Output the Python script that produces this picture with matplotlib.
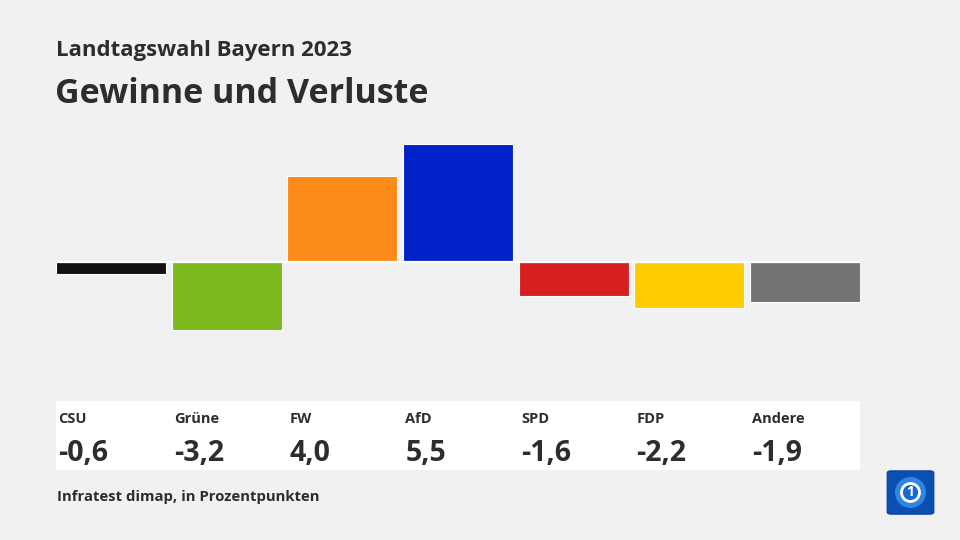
import matplotlib
matplotlib.use("Agg")
import matplotlib.pyplot as plt
from matplotlib.patches import Rectangle, FancyBboxPatch, Circle
from matplotlib.transforms import blended_transform_factory

parties = ["CSU", "Grüne", "FW", "AfD", "SPD", "FDP", "Andere"]
values = [-0.6, -3.2, 4.0, 5.5, -1.6, -2.2, -1.9]
value_labels = ["-0,6", "-3,2", "4,0", "5,5", "-1,6", "-2,2", "-1,9"]
colors = ["#111111", "#7aba1e", "#fd8b1a", "#0021c7", "#d71f1f", "#ffcc00", "#737374"]

W, H = 960, 540
BG = "#f1f1f1"
TXT = "#2d2d2d"
FONT = ["Open Sans", "DejaVu Sans"]

fig = plt.figure(figsize=(9.6, 5.4), dpi=100, facecolor=BG)

def fx(x):
    return x / W

def fy(y):
    return 1 - y / H

# Bar axes
ax_left, ax_right = 56, 860
ax_top, ax_bot = 130, 390
ax = fig.add_axes([fx(ax_left), fy(ax_bot), (ax_right - ax_left) / W, (ax_bot - ax_top) / H])
ax.set_facecolor(BG)
bw = 0.952
xs = list(range(len(parties)))
ax.bar(xs, values, width=bw, color=colors, edgecolor="white", linewidth=0.8, zorder=2)
ax.axhline(0, color="white", lw=1.6, zorder=3)
ax.set_xlim(-bw / 2, len(parties) - 1 + bw / 2)
zero_px = 261.5
scale = 21.3
ax.set_ylim(-(ax_bot - zero_px) / scale, (zero_px - ax_top) / scale)
ax.axis("off")

# Titles
fig.text(fx(56), fy(56), "Landtagswahl Bayern 2023", fontsize=16, fontweight="bold",
         color=TXT, family=FONT, va="baseline", ha="left")
fig.text(fx(55), fy(103), "Gewinne und Verluste", fontsize=24.5, fontweight="bold",
         color=TXT, family=FONT, va="baseline", ha="left")

# Label box
fig.patches.append(Rectangle((fx(56), fy(470)), (860 - 56) / W, (470 - 401) / H,
                             transform=fig.transFigure, facecolor="white", edgecolor="none", zorder=1))
tr = blended_transform_factory(ax.transData, fig.transFigure)
for i, (p, v) in enumerate(zip(parties, value_labels)):
    x0 = i - bw / 2 + 0.02
    fig.text(x0, fy(423), p, transform=tr, fontsize=10.5, fontweight="bold", color=TXT,
             family=FONT, va="baseline", ha="left", zorder=3)
    fig.text(x0, fy(461), v, transform=tr, fontsize=20.5, fontweight="bold", color=TXT,
             family=FONT, va="baseline", ha="left", zorder=3)

# Footnote
fig.text(fx(57), fy(501), "Infratest dimap, in Prozentpunkten", fontsize=10.7, fontweight="bold",
         color=TXT, family=FONT, va="baseline", ha="left")

# Logo
lx, ly, ls = 887, 469, 47
fig.patches.append(FancyBboxPatch((fx(lx + 4), fy(ly + ls - 4)), (ls - 8) / W, (ls - 8) / H,
                                  boxstyle="round,pad=0.004", transform=fig.transFigure,
                                  facecolor="#0b4fb3", edgecolor="#0a3f99", lw=0.8))
cx, cy = fx(lx + ls / 2), fy(ly + ls / 2)
fig.patches.append(Circle((cx, cy), 15.5 / H, transform=fig.transFigure, facecolor="#2f86e0",
                          edgecolor="none"))
fig.patches.append(Circle((cx, cy), 9 / H, transform=fig.transFigure, facecolor="#1769cf",
                          edgecolor="white", lw=2))
fig.text(cx, cy, "1", fontsize=10, fontweight="bold", color="white", ha="center", va="center",
         family=FONT)
for p in fig.patches[-2:]:
    p.set_transform(fig.dpi_scale_trans)
    p.center = ((lx + ls / 2) / 100, (H - (ly + ls / 2)) / 100)
fig.patches[-2].set_radius(15.5 / 100)
fig.patches[-1].set_radius(9 / 100)

fig.savefig("out.png", dpi=100, facecolor=BG)
